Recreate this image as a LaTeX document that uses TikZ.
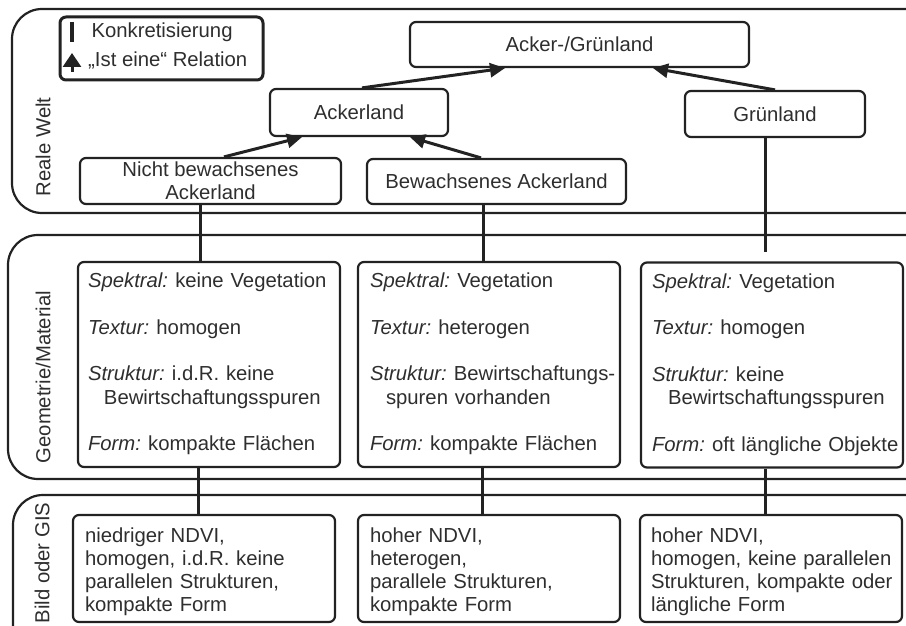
\documentclass[tikz,border=0pt]{standalone}
\usepackage{fontspec}
\setmainfont{Liberation Sans}
\usetikzlibrary{arrows.meta,calc}
\definecolor{ink}{HTML}{222222}
\definecolor{txt}{HTML}{2E2E2E}
\newcommand{\lab}[1]{{\itshape #1}\kern-3pt\relax}
\newcommand{\ltab}[1]{\begin{tabular}{@{}l@{}}#1\end{tabular}}
\begin{document}
\begin{tikzpicture}[x=1pt,y=-1pt,
  every node/.style={font=\fontsize{20.3}{23.3}\selectfont, text=txt},
  panel/.style={draw=ink, line width=2.2pt, rounded corners=30pt},
  cbox/.style={draw=ink, line width=2.2pt, rounded corners=6pt, inner sep=0pt, align=center},
  gbox/.style={draw=ink, line width=2.2pt, rounded corners=6pt, minimum width=262pt, minimum height=205pt, inner xsep=10pt, inner ysep=0pt, text width=242pt, align=left},
  bbox/.style={draw=ink, line width=2.2pt, rounded corners=6pt, minimum width=262pt, minimum height=107pt, inner xsep=12pt, inner ysep=0pt, text width=238pt, align=left},
  isa/.style={draw=ink, line width=3pt, -{Triangle[length=15pt,width=14pt]}},
  konk/.style={draw=ink, line width=3pt},
  side/.style={rotate=90, anchor=center}
]
\useasboundingbox (0,0) rectangle (906,626);
% panels
\draw[panel] (12,9) rectangle (940,213);
\draw[panel] (8,235) rectangle (940,479);
\draw[panel] (13,495) rectangle (940,660);
\node[side] (lr) at (43,147) {Reale Welt};
\node[side] (lg) at (43,377) {Geometrie/Material};
\node[side] (lb) at (42,563) {Bild oder GIS};
% legend
\node[draw=ink, line width=3pt, rounded corners=6pt, minimum width=203pt, minimum height=63pt] (leg) at (161.5,48.5) {};
\coordinate (kb1) at (72,22);
\coordinate (kb2) at (72,42);
\draw[konk, line width=3.5pt] (kb1) -- (kb2);
\coordinate (ia1) at (72,72);
\coordinate (ia2) at (72,53);
\draw[isa, -{Triangle[length=14pt,width=18pt]}] (ia1) -- (ia2);
\node[anchor=west] (lk) at (88,32) {Konkretisierung};
\node[anchor=west, inner xsep=0pt] (li) at (88,60) {„Ist eine“ Relation};
% real world
\node[cbox, minimum width=339pt, minimum height=45pt] (ag) at (579.5,44.5) {Acker-/Grünland};
\node[cbox, minimum width=178pt, minimum height=47pt] (ack) at (359,112.5) {Ackerland};
\node[cbox, minimum width=180pt, minimum height=46pt] (gru) at (775,114) {Grünland};
\node[cbox, minimum width=261pt, minimum height=46pt] (nba) at (210.5,181) {Nicht bewachsenes\\Ackerland};
\node[cbox, minimum width=259pt, minimum height=45pt] (ba) at (496.5,181.5) {Bewachsenes Ackerland};
% geometry
\node[gbox] (gA) at (209,364.5) {\ltab{\lab{Spektral:} keine Vegetation\\[23.3pt]\lab{Textur:} homogen\\[23.3pt]\lab{Struktur:} i.d.R. keine\\\hspace*{16pt}Bewirtschaftungsspuren\\[23.3pt]\lab{Form:} kompakte Flächen}};
\node[gbox, inner xsep=12pt, text width=238pt] (gB) at (489,364.5) {\ltab{\lab{Spektral:} Vegetation\\[23.3pt]\lab{Textur:} heterogen\\[23.3pt]\lab{Struktur:} Bewirtschaftungs-\\\hspace*{16pt}spuren vorhanden\\[23.3pt]\lab{Form:} kompakte Flächen}};
\node[gbox, inner xsep=11pt, text width=240pt] (gC) at (772,365) {\ltab{\lab{Spektral:} Vegetation\\[23.3pt]\lab{Textur:} homogen\\[23.3pt]\lab{Struktur:} keine\\\hspace*{16pt}Bewirtschaftungsspuren\\[23.3pt]\lab{Form:} oft längliche Objekte}};
% image / GIS
\node[bbox] (bA) at (204,568.5) {\ltab{\rule{0pt}{24pt}niedriger NDVI,\\homogen, i.d.R. keine\\parallelen Strukturen,\\kompakte Form}};
\node[bbox] (bB) at (489,568.5) {\ltab{\rule{0pt}{24pt}hoher NDVI,\\heterogen,\\parallele Strukturen,\\kompakte Form}};
\node[bbox, inner xsep=11pt, text width=240pt] (bC) at (771,568.5) {\ltab{\rule{0pt}{24pt}hoher NDVI,\\homogen, keine parallelen\\Strukturen, kompakte oder\\längliche Form}};
% is-a arrows
\coordinate (x1) at (362,0); \coordinate (x2) at (505,0);
\coordinate (x3) at (775,0); \coordinate (x4) at (653,0);
\coordinate (x5) at (224,0); \coordinate (x6) at (302,0);
\coordinate (x7) at (481,0); \coordinate (x8) at (410,0);
\draw[isa] (ack.north -| x1) -- (ag.south -| x2);
\draw[isa] (gru.north -| x3) -- (ag.south -| x4);
\draw[isa] (nba.north -| x5) -- (ack.south -| x6);
\draw[isa] (ba.north -| x7) -- (ack.south -| x8);
% concretisation lines
\coordinate (c1) at (200,0); \coordinate (c2) at (483,0);
\coordinate (gend) at (765,252);
\coordinate (c3) at (198,0); \coordinate (c4) at (482,0); \coordinate (c5) at (765,0);
\draw[konk] (nba.south -| c1) -- (gA.north -| c1);
\draw[konk] (ba.south -| c2) -- (gB.north -| c2);
\draw[konk] (gru.south -| gend) -- (gend);
\draw[konk] (gA.south -| c3) -- (bA.north -| c3);
\draw[konk] (gB.south -| c4) -- (bB.north -| c4);
\draw[konk] (gC.south -| c5) -- (bC.north -| c5);
\end{tikzpicture}
\end{document}
